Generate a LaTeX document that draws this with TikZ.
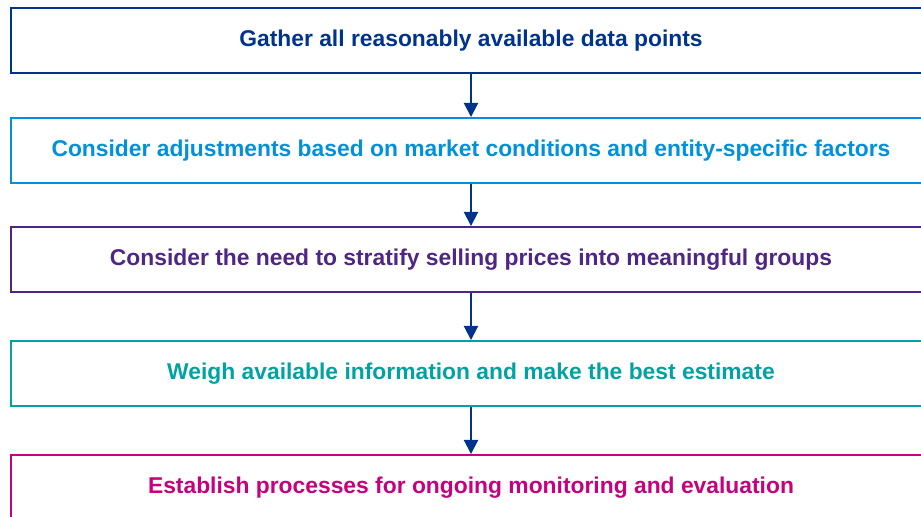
\documentclass[tikz,border=0pt]{standalone}
\usepackage{fontspec}
\setmainfont{Liberation Sans}
\usetikzlibrary{arrows.meta}
\usetikzlibrary{positioning}

\definecolor{stepblue}{HTML}{00338D}
\definecolor{steplight}{HTML}{0091DA}
\definecolor{steppurple}{HTML}{4F2683}
\definecolor{stepteal}{HTML}{00A3A1}
\definecolor{stepmagenta}{HTML}{C6007E}

\begin{document}
\begin{tikzpicture}[x=0.02cm,y=0.02cm,
    stage/.style={line width=1.1pt,minimum width=18.4cm,minimum height=1.3cm,
        inner sep=0pt,font=\fontsize{13}{15}\selectfont\bfseries},
    flow/.style={-{Triangle[length=8pt,width=8pt]},line width=1.1pt,stepblue}]
    \useasboundingbox (0,0) rectangle (921,517);
    \clip (0,0) rectangle (921,517);

    % Stages
    \node[stage,draw=stepblue,text=stepblue] (gather) at (471,476.5) {Gather all reasonably available data points};
    \node[stage,draw=steplight,text=steplight] (adjust) at (471,366.5) {Consider adjustments based on market conditions and entity-specific factors};
    \node[stage,draw=steppurple,text=steppurple] (stratify) at (471,257.5) {Consider the need to stratify selling prices into meaningful groups};
    \node[stage,draw=stepteal,text=stepteal] (weigh) at (471,143.5) {Weigh available information and make the best estimate};
    \node[stage,draw=stepmagenta,text=stepmagenta] (monitor) at (471,29.5) {Establish processes for ongoing monitoring and evaluation};

    % Arrows
    \draw[flow] (gather) -- (adjust);
    \draw[flow] (adjust) -- (stratify);
    \draw[flow] (stratify) -- (weigh);
    \draw[flow] (weigh) -- (monitor);
\end{tikzpicture}
\end{document}
